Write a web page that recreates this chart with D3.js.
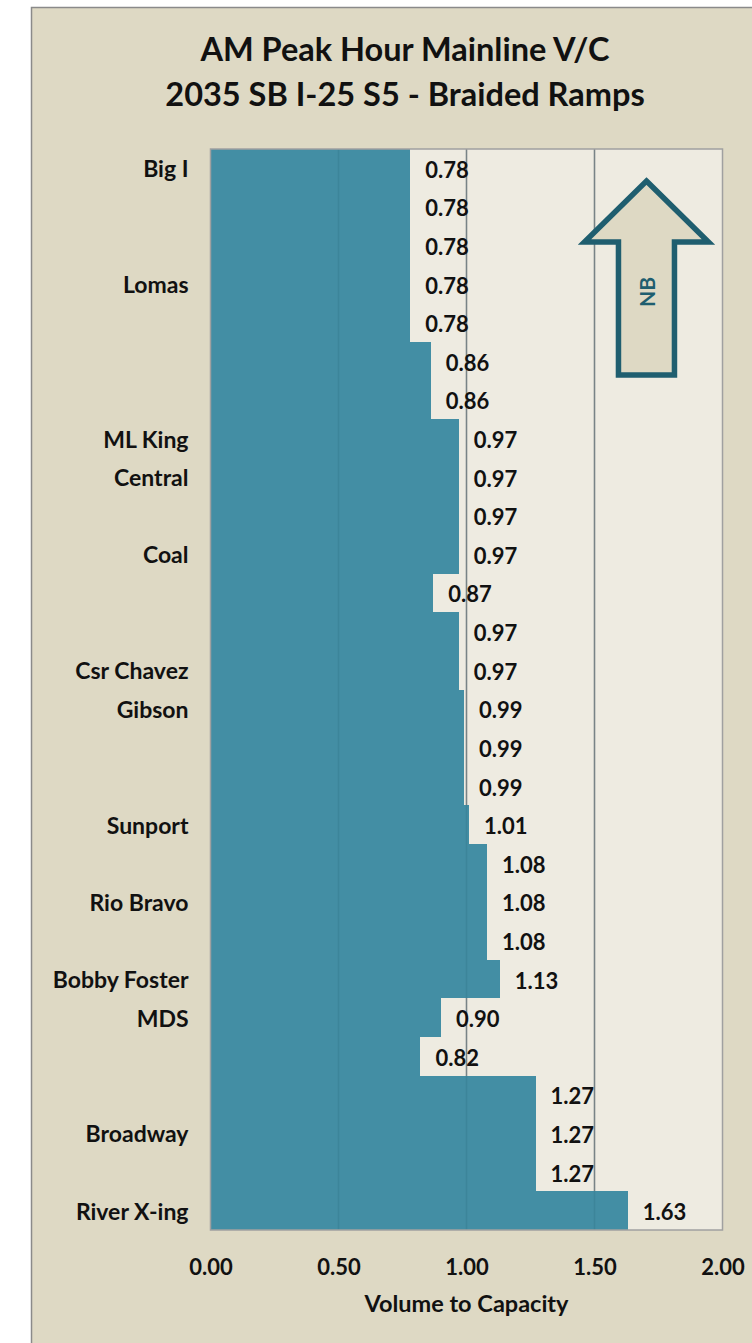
<!DOCTYPE html>
<html>
<head>
<meta charset="utf-8">
<script src="https://cdn.jsdelivr.net/npm/d3@7"></script>
<style>
  html, body { margin: 0; padding: 0; background: #ffffff; }
  svg { display: block; }
  text { font-family: Lato, "Open Sans", "DejaVu Sans", sans-serif; font-weight: 700; fill: #111; }
</style>
</head>
<body>
<script>
// Mainline segments, north (top) to south (bottom)
const categories = [
  "Big I", "", "", "Lomas", "", "", "", "ML King", "Central", "", "Coal", "", "",
  "Csr Chavez", "Gibson", "", "", "Sunport", "", "Rio Bravo", "", "Bobby Foster",
  "MDS", "", "", "Broadway", "", "River X-ing"
];
const vcValues = [
  0.78, 0.78, 0.78, 0.78, 0.78, 0.86, 0.86, 0.97, 0.97, 0.97, 0.97, 0.87, 0.97,
  0.97, 0.99, 0.99, 0.99, 1.01, 1.08, 1.08, 1.08, 1.13, 0.90, 0.82, 1.27, 1.27,
  1.27, 1.63
];
const xTicks = [0, 0.5, 1.0, 1.5, 2.0];
const gridValues = [0.5, 1.0, 1.5];
const titleLines = ["AM Peak Hour Mainline V/C", "2035 SB I-25 S5 - Braided Ramps"];
const xAxisTitle = "Volume to Capacity";
const directionLabel = "NB";

const W = 752, H = 1343;
const plot = { left: 210.5, right: 722.5, top: 149, bottom: 1230 };

const svg = d3.select("body").append("svg").attr("width", W).attr("height", H);

// chart area
svg.append("rect")
  .attr("x", 31.5).attr("y", 7.5).attr("width", 800).attr("height", 1400)
  .attr("fill", "#DED9C4").attr("stroke", "#8a8a8a").attr("stroke-width", 1.5);

// title
svg.append("g").selectAll("text").data(titleLines).join("text")
  .attr("x", 405).attr("y", (d, i) => 48 + i * 45)
  .attr("text-anchor", "middle").attr("dominant-baseline", "central")
  .style("font-size", "32.5px")
  .text(d => d);

const x = d3.scaleLinear().domain([0, 2]).range([plot.left, plot.right]);
const y = d3.scaleBand().domain(d3.range(categories.length))
  .range([plot.top, plot.bottom]).paddingInner(0).paddingOuter(0);

// plot background
svg.append("rect")
  .attr("x", plot.left).attr("y", plot.top)
  .attr("width", plot.right - plot.left).attr("height", plot.bottom - plot.top)
  .attr("fill", "#EEEBE1");

// vertical gridlines
svg.append("g").selectAll("line").data(gridValues).join("line")
  .attr("x1", d => x(d)).attr("x2", d => x(d))
  .attr("y1", plot.top).attr("y2", plot.bottom)
  .attr("stroke", "#8c8c8c").attr("stroke-width", 1.5);

// bars
svg.append("g").attr("shape-rendering", "crispEdges")
  .selectAll("rect").data(vcValues).join("rect")
  .attr("x", x(0))
  .attr("y", (d, i) => Math.round(y(i)))
  .attr("width", d => x(d) - x(0))
  .attr("height", (d, i) => Math.round(y(i) + y.bandwidth()) - Math.round(y(i)))
  .attr("fill", "#438EA4");

// gridlines showing faintly through the bars
svg.append("g").selectAll("line").data(gridValues).join("line")
  .attr("x1", d => x(d)).attr("x2", d => x(d))
  .attr("y1", plot.top).attr("y2", plot.bottom)
  .attr("stroke", "#1F5E6F").attr("stroke-opacity", 0.18).attr("stroke-width", 1.5);

// plot border
svg.append("rect")
  .attr("x", plot.left).attr("y", plot.top)
  .attr("width", plot.right - plot.left).attr("height", plot.bottom - plot.top)
  .attr("fill", "none").attr("stroke", "#a0a0a0").attr("stroke-width", 1.5);

// value labels
svg.append("g").selectAll("text").data(vcValues).join("text")
  .attr("x", d => x(d) + 15)
  .attr("y", (d, i) => y(i) + y.bandwidth() / 2 + 1)
  .attr("dominant-baseline", "central")
  .style("font-size", "22px")
  .text(d => d3.format(".2f")(d));

// category axis
const yAxis = svg.append("g")
  .attr("transform", `translate(${plot.left - 22},0)`)
  .call(d3.axisLeft(y).tickSize(0).tickPadding(0).tickFormat(i => categories[i]));
yAxis.select(".domain").remove();
yAxis.selectAll("text")
  .attr("dy", null).attr("dominant-baseline", "central")
  .style("font-size", "23px").attr("fill", "#111");
yAxis.attr("font-family", null).attr("font-size", null);

// value axis
const xAxis = svg.append("g")
  .attr("transform", `translate(0,${plot.bottom})`)
  .call(d3.axisBottom(x).tickValues(xTicks).tickSize(0).tickPadding(0)
    .tickFormat(d3.format(".2f")));
xAxis.select(".domain").remove();
xAxis.selectAll("text")
  .attr("dy", null).attr("y", 36).attr("dominant-baseline", "central")
  .style("font-size", "22px").attr("fill", "#111");
xAxis.attr("font-family", null).attr("font-size", null);

svg.append("text")
  .attr("x", x(1)).attr("y", 1303)
  .attr("text-anchor", "middle").attr("dominant-baseline", "central")
  .style("font-size", "23.5px")
  .text(xAxisTitle);

// northbound direction arrow
const ax = x(1.703);
const arrowTop = plot.top + 32;
const headBase = plot.top + 93;
const arrowBottom = plot.top + 226;
const headHalf = 62, shaftHalf = 28;
const arrowPath = d3.path();
arrowPath.moveTo(ax, arrowTop);
arrowPath.lineTo(ax + headHalf, headBase);
arrowPath.lineTo(ax + shaftHalf, headBase);
arrowPath.lineTo(ax + shaftHalf, arrowBottom);
arrowPath.lineTo(ax - shaftHalf, arrowBottom);
arrowPath.lineTo(ax - shaftHalf, headBase);
arrowPath.lineTo(ax - headHalf, headBase);
arrowPath.closePath();
svg.append("path")
  .attr("d", arrowPath.toString())
  .attr("fill", "#DED9C4").attr("stroke", "#1F5E6F")
  .attr("stroke-width", 5.5).attr("stroke-linejoin", "miter");

svg.append("text")
  .attr("transform", `translate(${ax},${plot.top + 143}) rotate(-90)`)
  .attr("text-anchor", "middle").attr("dominant-baseline", "central")
  .style("font-size", "21px").style("fill", "#1F5E6F")
  .text(directionLabel);
</script>
</body>
</html>
